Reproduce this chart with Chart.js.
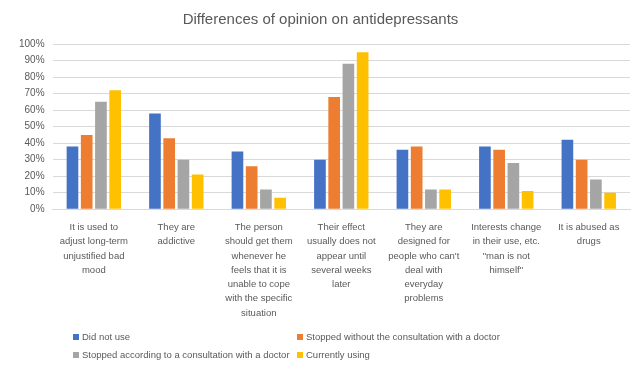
<!DOCTYPE html>
<html>
<head>
<meta charset="utf-8">
<script src="https://cdn.jsdelivr.net/npm/chart.js@4.4.1/dist/chart.umd.min.js"></script>
<style>
  html, body { margin: 0; padding: 0; background: #fff; }
  #wrap { position: relative; width: 636px; height: 367px; }
  #legend {
    position: absolute; left: 73px; top: 331px;
    display: grid; grid-template-columns: 224px 320px; row-gap: 7px;
    font: 9.5px "Liberation Sans", Arial, sans-serif; color: #595959;
    white-space: nowrap;
  }
  #legend span.box { display: inline-block; width: 6px; height: 6px; margin-right: 3px; vertical-align: 0px; }
</style>
</head>
<body>
<div id="wrap">
  <canvas id="chart" width="636" height="367"></canvas>
  <div id="legend"></div>
</div>
<script>
// opinion statements on the x axis (one array per wrapped label)
const categories = [
  ['It is used to', 'adjust long-term', 'unjustified bad', 'mood'],
  ['They are', 'addictive'],
  ['The person', 'should get them', 'whenever he', 'feels that it is', 'unable to cope', 'with the specific', 'situation'],
  ['Their effect', 'usually does not', 'appear until', 'several weeks', 'later'],
  ['They are', 'designed for', "people who can't", 'deal with', 'everyday', 'problems'],
  ['Interests change', 'in their use, etc.', '"man is not', 'himself"'],
  ['It is abused as', 'drugs']
];

// share of respondents per group, in percent
const didNotUse        = [38, 58, 35, 30, 36, 38, 42];
const stoppedNoDoctor  = [45, 43, 26, 68, 38, 36, 30];
const stoppedWithDoctor = [65, 30, 12, 88, 12, 28, 18];
const currentlyUsing   = [72, 21, 7, 95, 12, 11, 10];

const seriesNames = [
  'Did not use',
  'Stopped without the consultation with a doctor',
  'Stopped according to a consultation with a doctor',
  'Currently using'
];
const seriesColors = ['#4472C4', '#ED7D31', '#A5A5A5', '#FFC000'];
const yTicks = [0, 10, 20, 30, 40, 50, 60, 70, 80, 90, 100];

const series = [didNotUse, stoppedNoDoctor, stoppedWithDoctor, currentlyUsing];

const chart = new Chart(document.getElementById('chart'), {
  type: 'bar',
  data: {
    labels: categories,
    datasets: series.map((values, i) => ({
      label: seriesNames[i],
      data: values,
      backgroundColor: seriesColors[i],
      categoryPercentage: 0.69,
      barPercentage: 0.82
    }))
  },
  options: {
    responsive: false,
    animation: false,
    layout: { padding: { left: 11, right: 6, top: 0, bottom: 44 } },
    plugins: {
      legend: { display: false },
      tooltip: { enabled: false },
      title: {
        display: true,
        text: 'Differences of opinion on antidepressants',
        color: '#595959',
        font: { family: 'Liberation Sans', size: 15, weight: 'normal' },
        padding: { top: 11, bottom: 15 }
      }
    },
    scales: {
      x: {
        grid: { display: false },
        border: { color: '#d9d9d9' },
        ticks: {
          maxRotation: 0,
          autoSkip: false,
          color: '#595959',
          padding: 3,
          font: { family: 'Liberation Sans', size: 9.5, lineHeight: 1.5 }
        }
      },
      y: {
        min: 0,
        max: 100,
        afterBuildTicks: (axis) => { axis.ticks = yTicks.map(v => ({ value: v })); },
        grid: { color: '#d9d9d9', drawTicks: false },
        border: { display: false },
        ticks: {
          color: '#595959',
          padding: 8,
          font: { family: 'Liberation Sans', size: 10 },
          callback: (v) => v + '%'
        }
      }
    }
  }
});

// legend laid out in two columns
const legend = document.getElementById('legend');
chart.data.datasets.forEach((ds) => {
  const item = document.createElement('div');
  item.innerHTML = '<span class="box" style="background:' + ds.backgroundColor + '"></span>' + ds.label;
  legend.appendChild(item);
});
</script>
</body>
</html>
